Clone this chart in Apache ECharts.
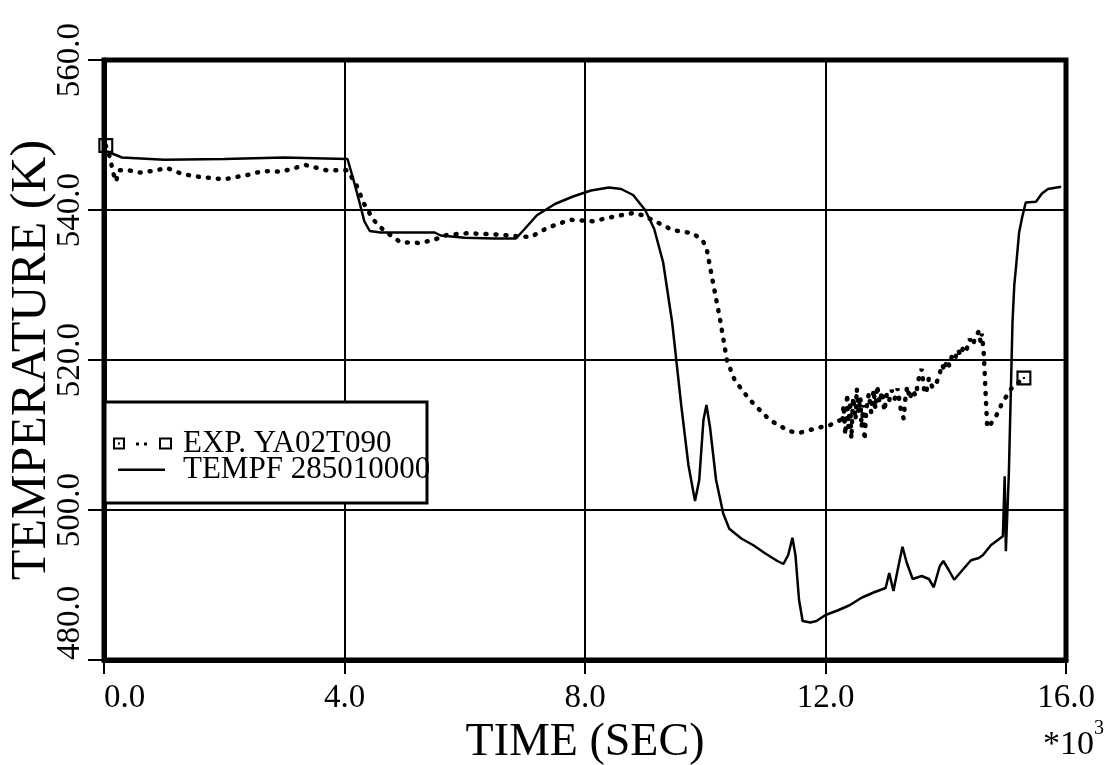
<!DOCTYPE html>
<html>
<head>
<meta charset="utf-8">
<script src="https://cdn.jsdelivr.net/npm/echarts@6/dist/echarts.min.js"></script>
<style>html,body{margin:0;padding:0;background:#fff}#c{width:1110px;height:765px}</style>
</head>
<body>
<div id="c"></div>
<script>
// x in units of 10^3 s, y in K
const xTicks = [0, 4, 8, 12, 16];
const yTicks = [480, 500, 520, 540, 560];
const seriesNames = ['EXP. YA02T090', 'TEMPF 285010000'];

const expData = [
  [0.03,548.6],[0.1,547],[0.15,545],[0.2,543.8],[0.25,545.3],[0.4,545.3],[0.6,545.0],[0.8,545.2],
  [1.05,545.6],[1.3,544.8],[1.6,544.4],[2.0,544.1],[2.4,544.7],[2.65,545.2],[2.95,545.1],[3.35,546.0],
  [3.7,545.3],[4.05,545.3],[4.2,543.3],[4.32,540.9],[4.48,538.7],[4.65,537.3],[4.93,535.7],[5.26,535.6],
  [5.48,536.0],[5.71,536.7],[6.04,536.9],[6.6,536.7],[6.87,536.5],[7.1,536.4],[7.37,537.6],[7.75,538.7],
  [8.13,538.5],[8.47,539.1],[8.8,539.6],[8.96,539.3],[9.19,538.4],[9.46,537.3],[9.79,536.9],[9.95,536],
  [10.02,535],[10.12,530.7],[10.24,525.7],[10.36,520],[10.49,517.3],[10.74,514.7],[11.07,512],[11.4,510.5],
  [11.57,510.3],[11.9,511],[12.07,511.3],[12.25,512],
  [12.28,511.5],[12.3,514],[12.33,510],[12.36,515.5],[12.38,511],[12.41,514.5],[12.43,509.5],[12.46,515],
  [12.5,512],[12.52,516.2],[12.55,513],[12.58,515],[12.6,511],[12.63,514],[12.65,509.3],[12.68,513.5],
  [12.72,515.5],[12.76,513],[12.8,516],[12.83,513.5],[12.86,516.6],[12.9,514.3],[12.94,515.8],[12.98,513.2],
  [13.02,515.5],[13.06,514.6],[13.1,516],[13.15,514.8],[13.2,516.2],[13.25,513.5],[13.3,512.2],[13.33,515],
  [13.36,516.5],[13.4,514.8],[13.45,516],[13.5,515.2],[13.55,517.5],[13.6,518.8],[13.64,516],[13.67,515.5],
  [13.72,517.6],[13.78,516.3],[13.84,516.8],[13.9,518.2],[13.94,519.4],[13.98,518.6],[14.02,520],[14.06,519.2],
  [14.1,520.5],[14.15,520],[14.2,521.4],[14.25,520.6],[14.3,522],[14.35,521.5],[14.4,522.8],[14.45,522],
  [14.5,523.2],[14.55,523.8],[14.58,522.4],[14.6,523.5],[14.63,521.2],[14.66,516],[14.69,511],[14.75,511.5],
  [14.83,512.4],[14.94,514.3],[15.1,516.3],[15.3,517.6]
];

const tempfData = [
  [0.05,547.8],[0.3,547.0],[1.0,546.7],[2.0,546.8],[3.0,547.0],[3.5,546.9],[4.05,546.8],
  [4.15,544],[4.25,541],[4.33,538.5],[4.42,537.2],[4.6,537.0],[5.0,537.0],[5.5,537.0],[5.6,536.6],
  [6.0,536.3],[6.5,536.2],[6.85,536.2],
  [7.0,537.5],[7.2,539.3],[7.5,540.8],[7.8,541.8],[8.1,542.6],[8.4,543.0],[8.6,542.8],[8.8,542.0],
  [9.0,540.0],[9.15,537.5],[9.3,533],[9.45,525],[9.6,514],[9.72,506],[9.83,501.2],[9.9,504],[9.97,512],
  [10.02,514],[10.08,511],[10.18,504],[10.3,499.5],[10.4,497.5],[10.6,496.2],[10.8,495.3],[11.0,494.2],
  [11.2,493.2],[11.3,492.8],[11.38,494],[11.45,496.3],[11.5,494],[11.56,488],[11.62,485.2],[11.75,485.0],
  [11.85,485.2],[12.0,486.0],[12.2,486.6],[12.4,487.3],[12.6,488.3],[12.8,489.0],[13.0,489.6],[13.06,491.6],
  [13.13,489.2],[13.2,492],[13.28,495.1],[13.35,493],[13.45,490.8],[13.6,491.2],[13.72,490.8],[13.8,489.7],
  [13.9,492.5],[13.96,493.2],[14.05,492],[14.14,490.7],[14.3,492.2],[14.42,493.3],[14.55,493.6],[14.62,494],
  [14.75,495.3],[14.9,496.2],[14.95,496.5],[14.98,504.5],[15.0,494.5],[15.02,494.7],[15.05,505],[15.08,515],
  [15.11,525],[15.14,530],[15.17,532.5],[15.22,537],[15.27,539],[15.33,541],[15.5,541.1],[15.6,542.2],
  [15.7,542.8],[15.92,543.1]
];

const FONT = 'Liberation Serif';
const boxSym = 'path://M0 0H14V14H0Z M2 2V12H12V2Z M6 6H8V8H6Z';
const anchors = ' M0 0L0.01 0L0 0.01Z M65 14L64.99 14L65 13.99Z';
const expIcon = 'path://M0 1H12V13H0Z M2 3V11H10V3Z M5 6H7V8H5Z M23 6H26V9H23Z M31 6H34V9H31Z M46 1H59V13H46Z M48 3V11H57V3Z' + anchors;
const lineIcon = 'path://M5 6H52V8.5H5Z' + anchors;

const expSeriesData = expData.map((p, i) =>
  (i === 0 || i === expData.length - 1)
    ? { value: p, symbol: boxSym, symbolSize: 15 }
    : { value: p });

const chart = echarts.init(document.getElementById('c'), null, { renderer: 'canvas' });
chart.setOption({
  animation: false,
  backgroundColor: '#fff',
  grid: { left: 104, right: 44, top: 60, bottom: 105, show: true, borderColor: '#000', borderWidth: 5,
    backgroundColor: 'transparent', containLabel: false, outerBoundsMode: 'none' },
  xAxis: {
    type: 'value', min: xTicks[0], max: xTicks[xTicks.length - 1], interval: 4,
    name: 'TIME (SEC)', nameLocation: 'middle', nameGap: 60, nameMoveOverlap: false,
    nameTextStyle: { fontFamily: FONT, fontSize: 46, color: '#000' },
    axisLine: { show: true, lineStyle: { color: '#000', width: 5 } },
    axisTick: { show: true, length: 14, lineStyle: { color: '#000', width: 2 } },
    axisLabel: { fontFamily: FONT, fontSize: 33, color: '#000', margin: 22, alignMinLabel: 'left',
      formatter: v => v.toFixed(1) },
    splitLine: { show: true, lineStyle: { color: '#000', width: 2 } }
  },
  yAxis: {
    type: 'value', min: yTicks[0], max: yTicks[yTicks.length - 1], interval: 20,
    name: 'TEMPERATURE (K)', nameLocation: 'middle', nameGap: 47, nameMoveOverlap: false,
    nameTextStyle: { fontFamily: FONT, fontSize: 50, color: '#000' },
    axisLine: { show: true, lineStyle: { color: '#000', width: 5 } },
    axisTick: { show: true, length: 16, lineStyle: { color: '#000', width: 2 } },
    axisLabel: { fontFamily: FONT, fontSize: 33, color: '#000', margin: 17, rotate: 90, alignMinLabel: 'left',
      formatter: v => v.toFixed(1) },
    splitLine: { show: true, lineStyle: { color: '#000', width: 2 } }
  },
  legend: {
    orient: 'vertical', left: 113, top: 428, padding: 0, itemWidth: 65, itemHeight: 14, itemGap: -5,
    selectedMode: false,
    textStyle: { fontFamily: FONT, fontSize: 31, color: '#000' },
    data: [
      { name: seriesNames[0], icon: expIcon, itemStyle: { color: '#000', borderWidth: 0 } },
      { name: seriesNames[1], icon: lineIcon, itemStyle: { color: '#000', borderWidth: 0 } }
    ],
    z: 10
  },
  graphic: [
    { type: 'rect', z: 5, shape: { x: 105, y: 402, width: 322, height: 101 },
      style: { fill: '#fff', stroke: '#000', lineWidth: 3 } },
    { type: 'text', left: 1043, top: 728, z: 5, style: { text: '*10', font: '34px "Liberation Serif"', fill: '#000' } },
    { type: 'text', left: 1094, top: 719, z: 5, style: { text: '3', font: '20px "Liberation Serif"', fill: '#000' } }
  ],
  series: [
    {
      name: seriesNames[0], type: 'line', data: expSeriesData,
      symbol: 'none', showSymbol: true, showAllSymbol: true,
      itemStyle: { color: '#000' },
      lineStyle: { color: '#000', width: 4.5, type: [1, 9], cap: 'round' },
      z: 3
    },
    {
      name: seriesNames[1], type: 'line', data: tempfData,
      symbol: 'none', showSymbol: false,
      itemStyle: { color: '#000' },
      lineStyle: { color: '#000', width: 2.5 },
      z: 3
    }
  ]
});
</script>
</body>
</html>
